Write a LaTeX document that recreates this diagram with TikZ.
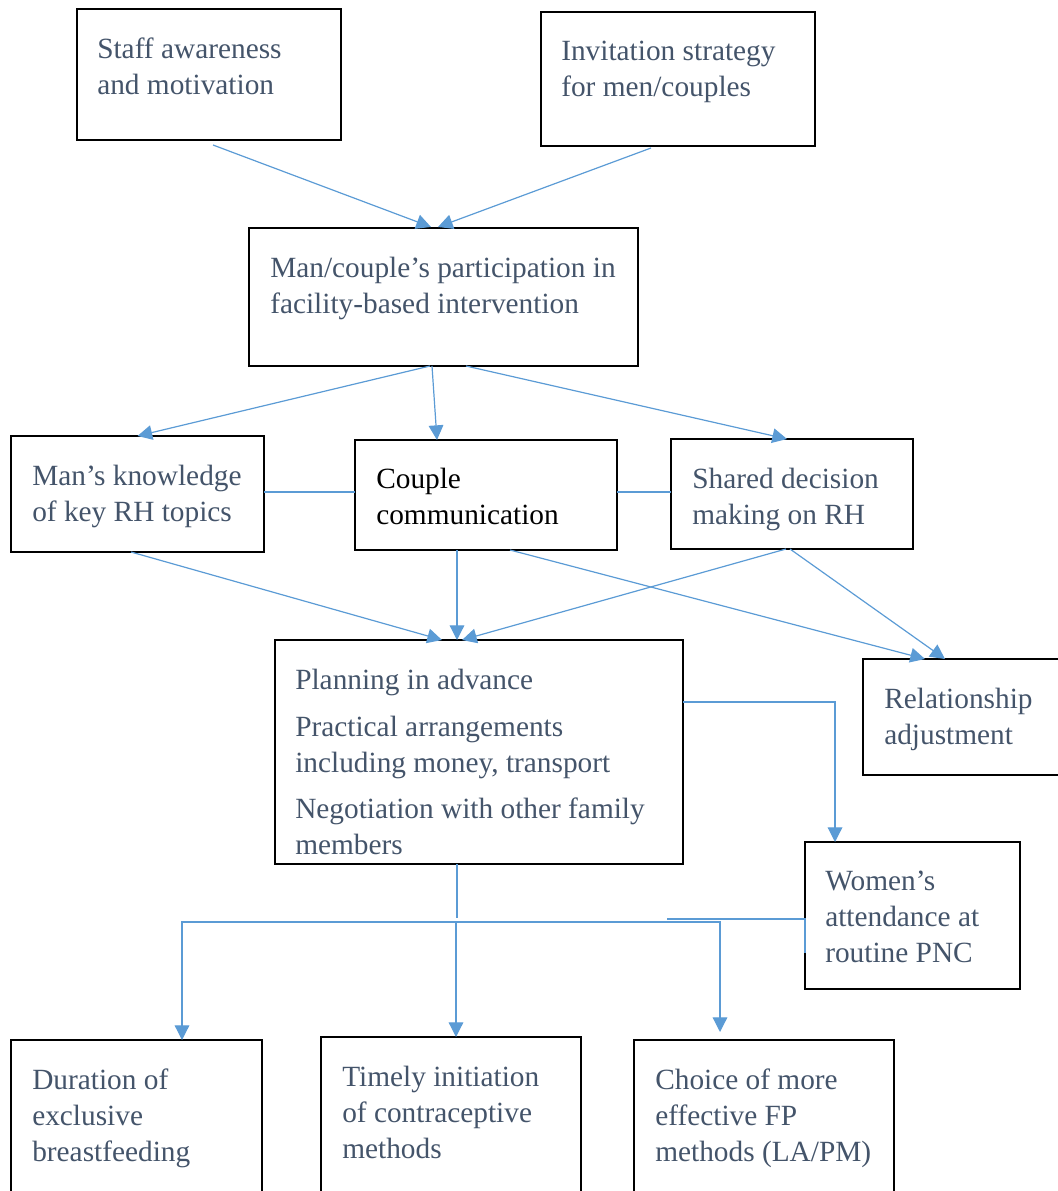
\documentclass[tikz,border=0pt]{standalone}
\usepackage{fontspec}
\setmainfont{Liberation Serif}
\usetikzlibrary{arrows.meta, positioning, calc, fit}
\definecolor{slate}{HTML}{44546A}
\definecolor{linkblue}{HTML}{5B9BD5}
\tikzset{
  box/.style={
    rectangle, draw=black, line width=0.9pt, inner sep=0pt, outer sep=0pt
  },
  boxtext/.style={
    anchor=north west, inner sep=0pt, align=left, text=#1,
    font=\fontsize{22}{27}\selectfont
  },
  boxtext/.default=slate,
  link/.style={
    draw=linkblue, line width=0.9pt
  },
  arrow/.style={
    link, -{Triangle[length=11pt, width=11pt]}
  }
}

\begin{document}
\begin{tikzpicture}[x=0.75pt, y=-0.75pt]
  \useasboundingbox (0,0) rectangle (1057,1191);

  % Inputs
  \node[box, fit={(77,9) (341,140)}] (staff) {};
  \node[boxtext] (staffT) at ([shift={(20,29)}]staff.north west) {Staff awareness\\and motivation};
  \node[box, fit={(541,12) (815,146)}] (invite) {};
  \node[boxtext] (inviteT) at ([shift={(20,29)}]invite.north west) {Invitation strategy\\for men/couples};

  % Intervention
  \node[box, fit={(249,228) (638,366)}] (man) {};
  \node[boxtext] (manT) at ([shift={(21,29)}]man.north west) {Man/couple’s participation in\\facility-based intervention};

  % Mediators
  \node[box, fit={(11,436) (264,552)}] (know) {};
  \node[boxtext] (knowT) at ([shift={(21,29)}]know.north west) {Man’s knowledge\\of key RH topics};
  \node[box, fit={(355,440) (617,550)}] (comm) {};
  \node[boxtext=black] (commT) at ([shift={(21,28)}]comm.north west) {Couple\\communication};
  \node[box, fit={(671,439) (913,549)}] (decide) {};
  \node[boxtext] (decideT) at ([shift={(21,29)}]decide.north west) {Shared decision\\making on RH};

  % Planning and relationship
  \node[box, fit={(275,640) (683,864)}] (plan) {};
  \node[boxtext] (planT) at ([shift={(20,29)}]plan.north west)
    {Planning in advance\\[8pt]Practical arrangements\\including money, transport\\[8pt]Negotiation with other family\\members};
  \node[box, fit={(863,659) (1065,775)}] (relation) {};
  \node[boxtext] (relationT) at ([shift={(21,29)}]relation.north west) {Relationship\\adjustment};
  \node[box, fit={(805,842) (1020,989)}] (women) {};
  \node[boxtext] (womenT) at ([shift={(20,29)}]women.north west) {Women’s\\attendance at\\routine PNC};

  % Outcomes
  \node[box, fit={(11,1040) (262,1200)}] (bf) {};
  \node[boxtext] (bfT) at ([shift={(21,29)}]bf.north west) {Duration of\\exclusive\\breastfeeding};
  \node[box, fit={(321,1037) (581,1200)}] (timely) {};
  \node[boxtext] (timelyT) at ([shift={(21,29)}]timely.north west) {Timely initiation\\of contraceptive\\methods};
  \node[box, fit={(634,1040) (894,1200)}] (choice) {};
  \node[boxtext] (choiceT) at ([shift={(21,29)}]choice.north west) {Choice of more\\effective FP\\methods (LA/PM)};

  % Inputs to intervention
  \draw[arrow] ([shift={(4,5)}]staff.south) -- ([shift={(-12.5,-1)}]man.north);
  \draw[arrow] ([shift={(-27,2)}]invite.south) -- ([shift={(-5.5,-1)}]man.north);

  % Intervention to mediators
  \draw[arrow] ([shift={(-13.5,0)}]man.south) -- (know.north);
  \draw[arrow] ([shift={(-11.5,0)}]man.south) -- ([shift={(-49,0)}]comm.north);
  \draw[arrow] ([shift={(22.5,0)}]man.south) -- ([shift={(-5,0)}]decide.north);

  % Links between mediators
  \draw[link] ([shift={(0,-2)}]know.east) -- ([shift={(0,-2)}]know.east -| comm.west);
  \draw[link] ([shift={(0,-3)}]comm.east) -- ([shift={(0,-3)}]comm.east -| decide.west);

  % Mediators to planning
  \draw[arrow] ([shift={(-6.5,0)}]know.south) -- ([shift={(-37,0)}]plan.north);
  \draw[arrow] ([shift={(-29,0)}]comm.south) -- ([shift={(-22,0)}]plan.north);
  \draw[arrow] ([shift={(-6,0)}]decide.south) -- ([shift={(-17,0)}]plan.north);

  % Mediators to relationship
  \draw[arrow] ([shift={(24,0)}]comm.south) -- ([shift={(-39,0)}]relation.north);
  \draw[arrow] ([shift={(-2,0)}]decide.south) -- ([shift={(-19,0)}]relation.north);

  % Planning to attendance
  \draw[arrow] ([shift={(0,62)}]plan.north east) -| ([shift={(30,0)}]women.north west);
  \draw[link] ([shift={(-138,3.5)}]women.west) -- ([shift={(0,3.5)}]women.west) -- ([shift={(0,37.5)}]women.west);

  % Planning to outcomes
  \coordinate (fork) at ([shift={(-22,58)}]plan.south);
  \draw[link] ([shift={(-22,0)}]plan.south) -- ([shift={(0,-4)}]fork);
  \draw[arrow] (fork) -| ([shift={(45.5,0)}]bf.north);
  \draw[arrow] (fork) -| ([shift={(5,0)}]timely.north);
  \draw[arrow] (fork) -| ([shift={(-44,-8)}]choice.north);
\end{tikzpicture}
\end{document}
